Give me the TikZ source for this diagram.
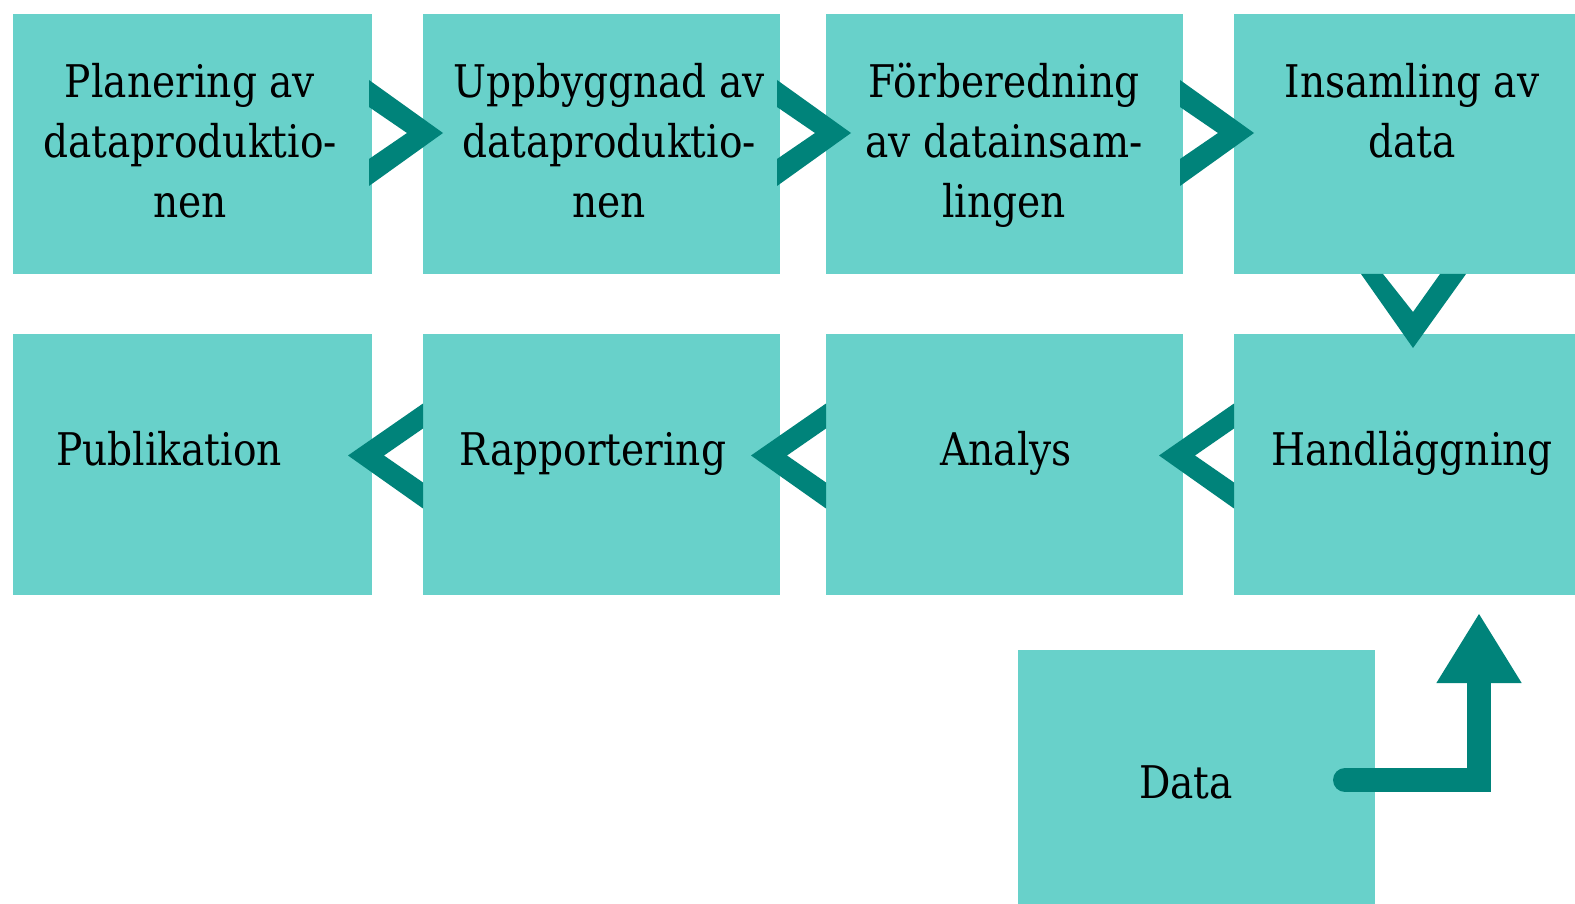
\documentclass[tikz,border=0pt]{standalone}
\usepackage{fontspec}
\setmainfont[FakeStretch=0.87]{DejaVu Serif}
\usetikzlibrary{calc,arrows.meta}
\definecolor{boxfill}{HTML}{68D1CA}
\definecolor{dark}{HTML}{00837A}
\begin{document}
\begin{tikzpicture}[x=1pt,y=-1pt,
  box/.style={fill=boxfill, draw=none, minimum width=357pt, minimum height=260pt, anchor=north west, inner sep=0pt, outer sep=0pt},
  lbl/.style={font=\fontsize{45}{60}\selectfont, align=center, anchor=base, inner sep=0pt},
  chevron/.style={fill=dark, draw=none},
  pics/chevR/.style={code={\fill[chevron] (0,-53) -- (74,0) -- (0,53) -- (0,26) -- (38,0) -- (0,-26) -- cycle;}},
  pics/chevL/.style={code={\fill[chevron] (0,-52) -- (-75,0) -- (0,53) -- (0,27) -- (-39,0) -- (0,-27) -- cycle;}},
  pics/chevD/.style={code={\fill[chevron] (-52,0) -- (0,74) -- (53,0) -- (27,0) -- (0,38) -- (-30,0) -- cycle;}}]
\useasboundingbox (0,0) rectangle (1575,904);
\fill[white] (0,0) rectangle (1575,904);
% boxes
\node[box, minimum width=359pt] (b1) at (13,14) {};
\node[box] (b2) at (423,14) {};
\node[box] (b3) at (826,14) {};
\node[box, minimum width=358pt] (b4) at (1234,14) {};
\node[box, minimum width=359pt, minimum height=261pt] (b5) at (13,334) {};
\node[box, minimum height=261pt] (b6) at (423,334) {};
\node[box, minimum height=261pt] (b7) at (826,334) {};
\node[box, minimum width=358pt, minimum height=261pt] (b8) at (1234,334) {};
\node[box] (data) at (1018,650) {};
% chevrons
\pic at ($(b1.north east)+(-3,119)$) {chevR};
\pic at ($(b2.north east)+(-3,119)$) {chevR};
\pic at ($(b3.north east)+(-3,119)$) {chevR};
\pic at (b4.south) {chevD};
\pic at ($(b8.west)+(0,-9)$) {chevL};
\pic at ($(b7.west)+(0,-9)$) {chevL};
\pic at ($(b6.west)+(0,-9)$) {chevL};
% labels (base anchor = baseline of last line)
\node[lbl] (t1) at (190,218) {Planering av\\dataproduktio-\\nen};
\node[lbl] (t2) at (609,218) {Uppbyggnad av\\dataproduktio-\\nen};
\node[lbl] (t3) at (1004,218) {Förberedning\\av datainsam-\\lingen};
\node[lbl] (t4) at (1412,158) {Insamling av\\data};
\node[lbl] (t5) at (169,465) {Publikation};
\node[lbl] (t6) at (593,465) {Rapportering};
\node[lbl] (t7) at (1006,465) {Analys};
\node[lbl] (t8) at (1412,465) {Handläggning};
\node[lbl] (t9) at (1186,798) {Data};
% arrow from Data to Handläggning
\coordinate (astart) at ($(data.north east)+(-30,130)$);
\coordinate (aend) at ($(b8.south)+(66,18)$);
\draw[dark, line width=24pt, line cap=round,
  -{Triangle[width=80pt,length=70pt]}] (astart) -| (aend);
\end{tikzpicture}
\end{document}
